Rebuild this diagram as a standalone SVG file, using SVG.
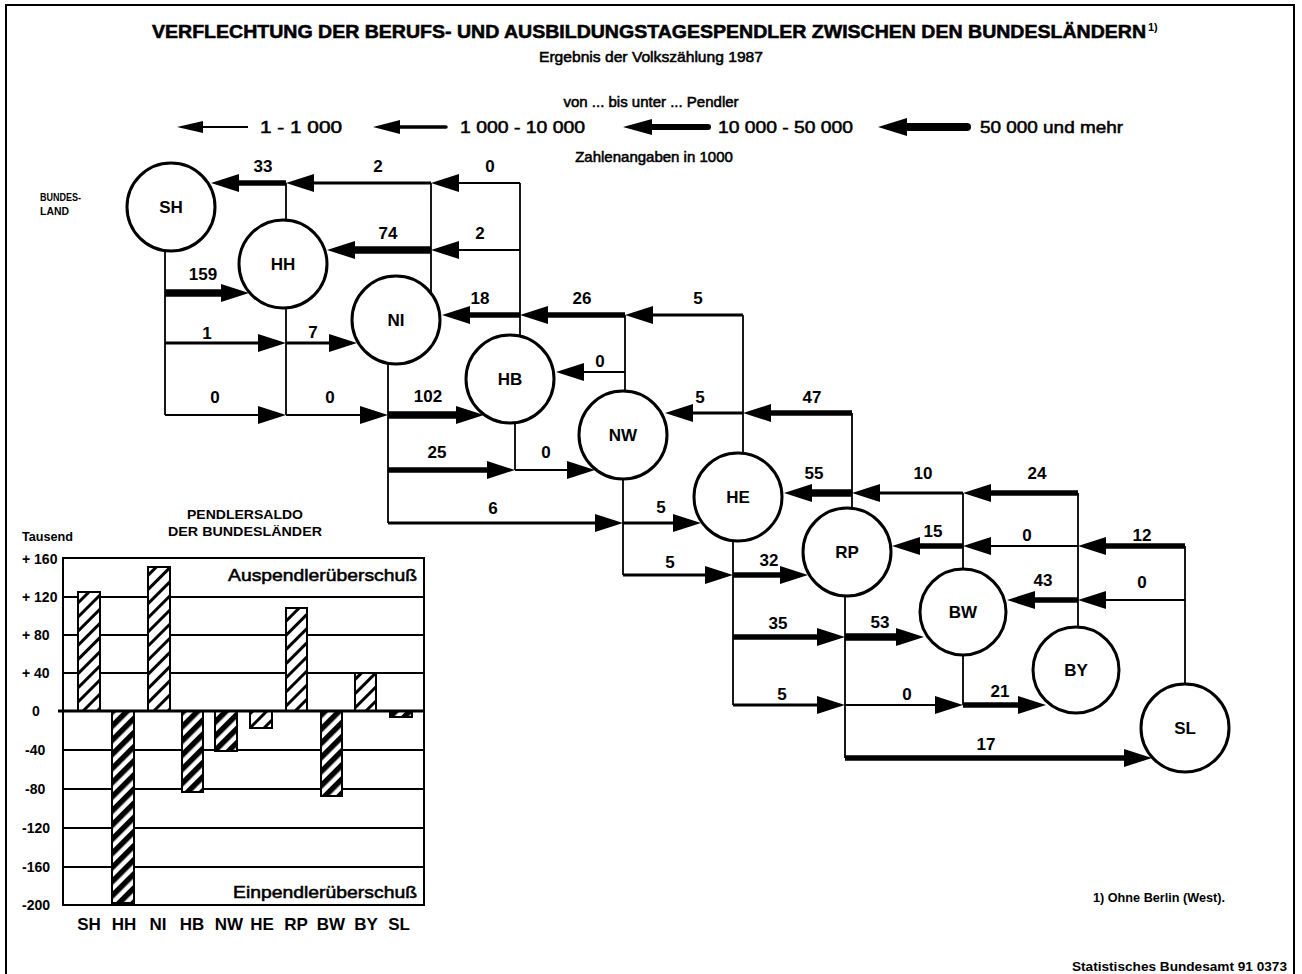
<svg xmlns="http://www.w3.org/2000/svg" width="1302" height="974" viewBox="0 0 1302 974">
<style>
text{font-family:"Liberation Sans",Arial,sans-serif;fill:#000}
.b{font-weight:bold}
.md{stroke:#000;stroke-width:0.55}
.num{font-size:17px;font-weight:bold;text-anchor:middle}
.nl{font-size:17px;font-weight:bold;text-anchor:middle}
.node circle{fill:#fff;stroke:#000;stroke-width:3}
.v{stroke:#000;stroke-width:1.8;fill:none}
.t{stroke:#000;stroke-width:1.8;marker-end:url(#ah)}
.m{stroke:#000;stroke-width:3.2;marker-end:url(#ah)}
.k{stroke:#000;stroke-width:5.5;marker-end:url(#ah)}
.x{stroke:#000;stroke-width:7.5;marker-end:url(#ah)}
.grid{stroke:#000;stroke-width:1.8}
.ax{font-size:14px;font-weight:bold}
.bar{stroke:#000;stroke-width:2}
</style>
<defs>
<marker id="ah" markerUnits="userSpaceOnUse" markerWidth="29" markerHeight="18" refX="1" refY="9" orient="auto">
<path d="M0,0 L28,9 L0,18 z" fill="#000"/>
</marker>
<pattern id="hp" patternUnits="userSpaceOnUse" width="10" height="10" patternTransform="rotate(45)">
<rect width="10" height="10" fill="#fff"/><rect width="3" height="10" fill="#000"/>
</pattern>
<pattern id="hn" patternUnits="userSpaceOnUse" width="10" height="10" patternTransform="rotate(45)">
<rect width="10" height="10" fill="#fff"/><rect width="5.5" height="10" fill="#000"/>
</pattern>
</defs>
<rect width="1302" height="974" fill="#fff"/>
<path d="M6,974 V5 H1294 V974" fill="none" stroke="#000" stroke-width="2"/>

<g id="title">
<text x="152" y="38" class="b md" font-size="18.5" stroke-width="0.3" textLength="994" lengthAdjust="spacingAndGlyphs">VERFLECHTUNG DER BERUFS- UND AUSBILDUNGSTAGESPENDLER ZWISCHEN DEN BUNDESLÄNDERN</text>
<text x="1148" y="31" class="b" font-size="11">1)</text>
<text x="651" y="62" font-size="15" text-anchor="middle" class="md" textLength="224" lengthAdjust="spacingAndGlyphs">Ergebnis der Volkszählung 1987</text>
</g>

<g id="legend">
<text x="651" y="107" font-size="15" text-anchor="middle" class="md">von ... bis unter ... Pendler</text>
<polygon points="177,127 203,121 203,133"/><line x1="202" y1="127" x2="248" y2="127" stroke="#000" stroke-width="2"/>
<text x="260" y="133" font-size="17" class="md" textLength="82" lengthAdjust="spacingAndGlyphs">1 - 1 000</text>
<polygon points="373,127 400,120 400,134"/><line x1="399" y1="127" x2="446" y2="127" stroke="#000" stroke-width="3.5" stroke-linecap="round"/>
<text x="460" y="133" font-size="17" class="md" textLength="125" lengthAdjust="spacingAndGlyphs">1 000 - 10 000</text>
<polygon points="623,127 652,119 652,135"/><line x1="651" y1="127" x2="708" y2="127" stroke="#000" stroke-width="6" stroke-linecap="round"/>
<text x="718" y="133" font-size="17" class="md" textLength="135" lengthAdjust="spacingAndGlyphs">10 000 - 50 000</text>
<polygon points="878,127 907,118 907,136"/><line x1="906" y1="127" x2="967" y2="127" stroke="#000" stroke-width="8" stroke-linecap="round"/>
<text x="980" y="133" font-size="17" class="md" textLength="143" lengthAdjust="spacingAndGlyphs">50 000 und mehr</text>
<text x="654" y="162" font-size="15" text-anchor="middle" class="md">Zahlenangaben in 1000</text>
</g>

<g id="bundesland-label">
<text x="40" y="201" class="b" font-size="11" textLength="41" lengthAdjust="spacingAndGlyphs">BUNDES-</text>
<text x="40" y="215" class="b" font-size="11" textLength="29" lengthAdjust="spacingAndGlyphs">LAND</text>
</g>

<g id="connectors">
<path class="v" d="M286,183 V221 M431,183 V293 M520,183 V336 M625,315 V391 M743,315 V453 M852,413 V508 M963,493 V568 M1078,493 V626 M1185,546 V684 M165,250 V415 M286,307 V415 M388,363 V523 M515,423 V470 M623,479 V575 M733,541 V705 M845,596 V758 M963,656 V705"/>
<line class="t" x1="520" y1="183" x2="458" y2="183"/>
<line class="m" x1="431" y1="183" x2="313" y2="183"/>
<line class="k" x1="286" y1="183" x2="238" y2="183"/>
<line class="t" x1="520" y1="250" x2="458" y2="250"/>
<line class="x" x1="431" y1="250" x2="354" y2="250"/>
<line class="m" x1="743" y1="315" x2="652" y2="315"/>
<line class="k" x1="625" y1="315" x2="547" y2="315"/>
<line class="k" x1="520" y1="315" x2="469" y2="315"/>
<line class="t" x1="625" y1="372" x2="583" y2="372"/>
<line class="k" x1="852" y1="413" x2="770" y2="413"/>
<line class="m" x1="743" y1="413" x2="692" y2="413"/>
<line class="k" x1="1078" y1="493" x2="990" y2="493"/>
<line class="m" x1="963" y1="493" x2="879" y2="493"/>
<line class="x" x1="852" y1="493" x2="811" y2="493"/>
<line class="k" x1="1185" y1="546" x2="1105" y2="546"/>
<line class="t" x1="1078" y1="546" x2="990" y2="546"/>
<line class="k" x1="963" y1="546" x2="919" y2="546"/>
<line class="t" x1="1185" y1="600" x2="1105" y2="600"/>
<line class="k" x1="1078" y1="600" x2="1034" y2="600"/>
<line class="x" x1="165" y1="293" x2="222" y2="293"/>
<line class="m" x1="165" y1="343" x2="259" y2="343"/>
<line class="m" x1="286" y1="343" x2="330" y2="343"/>
<line class="t" x1="165" y1="415" x2="259" y2="415"/>
<line class="t" x1="286" y1="415" x2="361" y2="415"/>
<line class="x" x1="388" y1="415" x2="457" y2="415"/>
<line class="k" x1="388" y1="470" x2="488" y2="470"/>
<line class="t" x1="515" y1="470" x2="568" y2="470"/>
<line class="m" x1="388" y1="523" x2="596" y2="523"/>
<line class="m" x1="623" y1="523" x2="674" y2="523"/>
<line class="m" x1="623" y1="575" x2="706" y2="575"/>
<line class="k" x1="733" y1="575" x2="781" y2="575"/>
<line class="k" x1="733" y1="637" x2="818" y2="637"/>
<line class="x" x1="845" y1="637" x2="897" y2="637"/>
<line class="m" x1="733" y1="705" x2="818" y2="705"/>
<line class="t" x1="845" y1="705" x2="936" y2="705"/>
<line class="k" x1="963" y1="705" x2="1019" y2="705"/>
<line class="k" x1="845" y1="758" x2="1125" y2="758"/>
</g>

<g id="flow-labels">
<text class="num" x="263" y="172">33</text>
<text class="num" x="378" y="172">2</text>
<text class="num" x="490" y="172">0</text>
<text class="num" x="388" y="239">74</text>
<text class="num" x="480" y="239">2</text>
<text class="num" x="203" y="280">159</text>
<text class="num" x="480" y="304">18</text>
<text class="num" x="582" y="304">26</text>
<text class="num" x="698" y="304">5</text>
<text class="num" x="207" y="339">1</text>
<text class="num" x="313" y="338">7</text>
<text class="num" x="600" y="367">0</text>
<text class="num" x="215" y="403">0</text>
<text class="num" x="330" y="403">0</text>
<text class="num" x="428" y="402">102</text>
<text class="num" x="700" y="403">5</text>
<text class="num" x="812" y="403">47</text>
<text class="num" x="437" y="458">25</text>
<text class="num" x="546" y="458">0</text>
<text class="num" x="814" y="479">55</text>
<text class="num" x="923" y="479">10</text>
<text class="num" x="1037" y="479">24</text>
<text class="num" x="493" y="514">6</text>
<text class="num" x="661" y="513">5</text>
<text class="num" x="933" y="537">15</text>
<text class="num" x="1027" y="541">0</text>
<text class="num" x="1142" y="541">12</text>
<text class="num" x="670" y="568">5</text>
<text class="num" x="769" y="566">32</text>
<text class="num" x="1043" y="586">43</text>
<text class="num" x="1142" y="588">0</text>
<text class="num" x="778" y="629">35</text>
<text class="num" x="880" y="628">53</text>
<text class="num" x="782" y="700">5</text>
<text class="num" x="907" y="700">0</text>
<text class="num" x="1000" y="697">21</text>
<text class="num" x="986" y="750">17</text>
</g>

<g id="node-SH" class="node"><circle cx="171" cy="207" r="44"/><text class="nl" x="171" y="213">SH</text></g>
<g id="node-HH" class="node"><circle cx="283" cy="264" r="44"/><text class="nl" x="283" y="270">HH</text></g>
<g id="node-NI" class="node"><circle cx="396" cy="320" r="44"/><text class="nl" x="396" y="326">NI</text></g>
<g id="node-HB" class="node"><circle cx="510" cy="379" r="44"/><text class="nl" x="510" y="385">HB</text></g>
<g id="node-NW" class="node"><circle cx="623" cy="435" r="44"/><text class="nl" x="623" y="441">NW</text></g>
<g id="node-HE" class="node"><circle cx="738" cy="497" r="44"/><text class="nl" x="738" y="503">HE</text></g>
<g id="node-RP" class="node"><circle cx="847" cy="552" r="44"/><text class="nl" x="847" y="558">RP</text></g>
<g id="node-BW" class="node"><circle cx="963" cy="612" r="43"/><text class="nl" x="963" y="618">BW</text></g>
<g id="node-BY" class="node"><circle cx="1076" cy="670" r="43"/><text class="nl" x="1076" y="676">BY</text></g>
<g id="node-SL" class="node"><circle cx="1185" cy="728" r="44"/><text class="nl" x="1185" y="734">SL</text></g>

<g id="bar-chart">
<text x="245" y="519" class="b" font-size="12" text-anchor="middle" textLength="116" lengthAdjust="spacingAndGlyphs">PENDLERSALDO</text>
<text x="245" y="536" class="b" font-size="12" text-anchor="middle" textLength="154" lengthAdjust="spacingAndGlyphs">DER BUNDESLÄNDER</text>
<text x="22" y="541" class="b" font-size="12" textLength="51" lengthAdjust="spacingAndGlyphs">Tausend</text>
<rect x="63" y="558" width="361" height="347" fill="#fff" stroke="#000" stroke-width="2"/>
<path class="grid" d="M63,597 H424 M63,635 H424 M63,673 H424 M63,750 H424 M63,789 H424 M63,828 H424 M63,867 H424"/>
<text x="228" y="581" font-size="17" class="md" stroke-width="0.4" textLength="189" lengthAdjust="spacingAndGlyphs">Auspendlerüberschuß</text>
<text x="233" y="898" font-size="17" class="md" stroke-width="0.4" textLength="184" lengthAdjust="spacingAndGlyphs">Einpendlerüberschuß</text>
<rect class="bar" x="78" y="592" width="22" height="119" fill="url(#hp)"/>
<rect class="bar" x="112" y="711" width="22" height="192" fill="url(#hn)"/>
<rect class="bar" x="148" y="567" width="22" height="144" fill="url(#hp)"/>
<rect class="bar" x="182" y="711" width="21" height="81" fill="url(#hn)"/>
<rect class="bar" x="215" y="711" width="22" height="40" fill="url(#hn)"/>
<rect class="bar" x="250" y="711" width="22" height="17" fill="url(#hp)"/>
<rect class="bar" x="286" y="608" width="21" height="103" fill="url(#hp)"/>
<rect class="bar" x="321" y="711" width="21" height="85" fill="url(#hn)"/>
<rect class="bar" x="355" y="673" width="21" height="38" fill="url(#hp)"/>
<rect class="bar" x="390" y="711" width="22" height="6" fill="url(#hn)"/>
<line x1="58" y1="711" x2="424" y2="711" stroke="#000" stroke-width="3"/>
<text class="ax" x="22" y="564">+ 160</text>
<text class="ax" x="22" y="602">+ 120</text>
<text class="ax" x="22" y="640">+ 80</text>
<text class="ax" x="22" y="678">+ 40</text>
<text class="ax" x="32" y="716">0</text>
<text class="ax" x="25" y="755">-40</text>
<text class="ax" x="25" y="794">-80</text>
<text class="ax" x="22" y="833">-120</text>
<text class="ax" x="22" y="872">-160</text>
<text class="ax" x="22" y="910">-200</text>
<text class="nl" x="89" y="930">SH</text>
<text class="nl" x="124" y="930">HH</text>
<text class="nl" x="158" y="930">NI</text>
<text class="nl" x="192" y="930">HB</text>
<text class="nl" x="229" y="930">NW</text>
<text class="nl" x="262" y="930">HE</text>
<text class="nl" x="296" y="930">RP</text>
<text class="nl" x="331" y="930">BW</text>
<text class="nl" x="366" y="930">BY</text>
<text class="nl" x="399" y="930">SL</text>
</g>

<g id="footer">
<text x="1093" y="902" class="b" font-size="12" textLength="132" lengthAdjust="spacingAndGlyphs">1) Ohne Berlin (West).</text>
<text x="1072" y="971" class="b" font-size="12.5" textLength="215" lengthAdjust="spacingAndGlyphs">Statistisches Bundesamt 91 0373</text>
</g>
</svg>
